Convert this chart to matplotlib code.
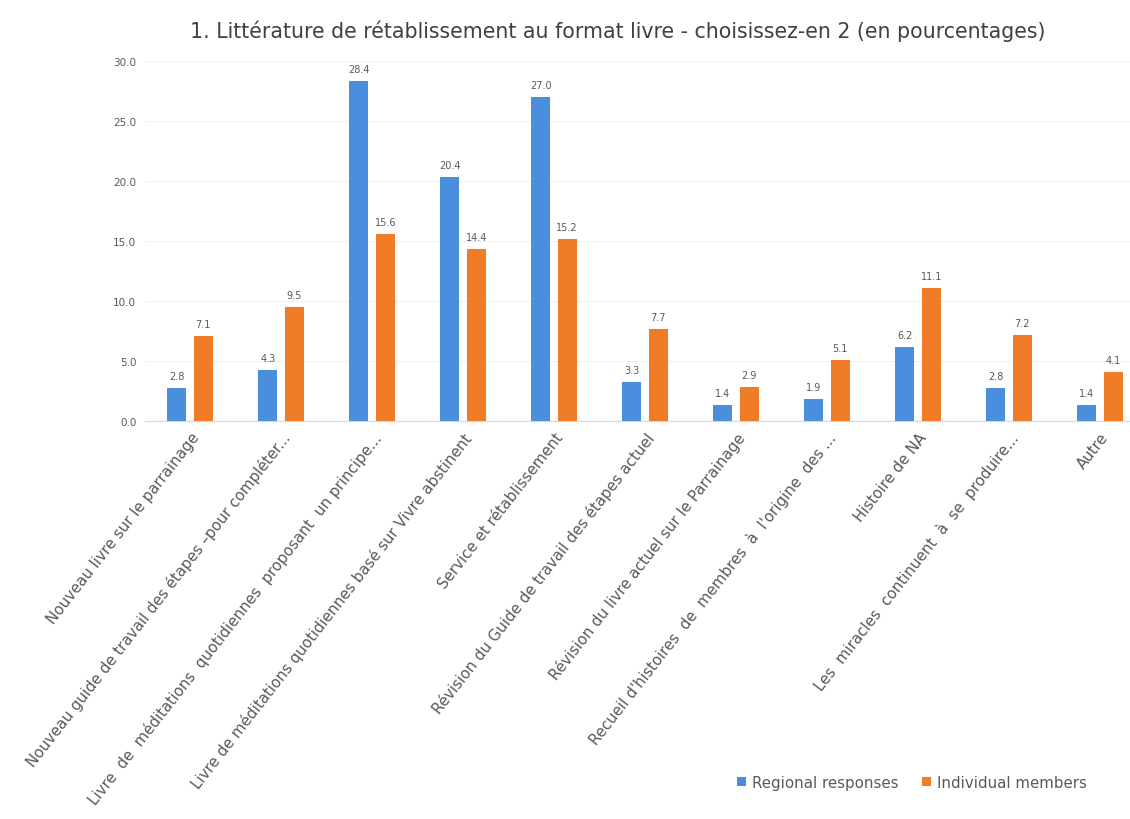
import matplotlib.pyplot as plt
import numpy as np

# Données
categories = [
    "Nouveau livre sur le parrainage",
    "Nouveau guide de travail des étapes –pour compléter...",
    "Livre  de  méditations  quotidiennes  proposant  un principe...",
    "Livre de méditations quotidiennes basé sur Vivre abstinent",
    "Service et rétablissement",
    "Révision du Guide de travail des étapes actuel",
    "Révision du livre actuel sur le Parrainage",
    "Recueil d'histoires  de  membres  à  l'origine  des ...",
    "Histoire de NA",
    "Les  miracles  continuent  à  se  produire...",
    "Autre",
]
regional = [2.8, 4.3, 28.4, 20.4, 27.0, 3.3, 1.4, 1.9, 6.2, 2.8, 1.4]
individual = [7.1, 9.5, 15.6, 14.4, 15.2, 7.7, 2.9, 5.1, 11.1, 7.2, 4.1]
series_names = ["Regional responses", "Individual members"]
yticks = [0, 5, 10, 15, 20, 25, 30]

BLUE = "#4A8FDD"
ORANGE = "#F07C28"
GREY = "#595959"

fig = plt.figure(figsize=(11.3, 8.2), dpi=100)
ax = fig.add_axes([0.128, 0.485, 0.872, 0.439])

x = np.arange(len(categories))
off = 0.145
w = 0.21
b1 = ax.bar(x - off, regional, w, color=BLUE, label=series_names[0], zorder=3)
b2 = ax.bar(x + off, individual, w, color=ORANGE, label=series_names[1], zorder=3)

for bars in (b1, b2):
    for rect in bars:
        h = rect.get_height()
        ax.annotate(f"{h:.1f}", (rect.get_x() + rect.get_width() / 2, h),
                    xytext=(0, 5), textcoords="offset points",
                    ha="center", va="bottom", fontsize=7, color=GREY)

ax.set_ylim(0, 30)
ax.set_yticks(yticks)
ax.set_yticklabels([f"{v:.1f}" for v in yticks], fontsize=7.5, color=GREY)
ax.set_xlim(-0.5, 10.33)
ax.set_xticks(x)
ax.set_xticklabels(categories, rotation=52, ha="right", rotation_mode="anchor",
                   fontsize=10.8, color=GREY)
ax.tick_params(axis="both", length=0)
ax.tick_params(axis="y", pad=6)
ax.tick_params(axis="x", pad=6)
ax.grid(axis="y", color="#F0F0F0", linewidth=0.8, zorder=0)
for s in ("top", "right", "left"):
    ax.spines[s].set_visible(False)
ax.spines["bottom"].set_color("#D9D9D9")

fig.text(0.547, 0.962,
         "1. Littérature de rétablissement au format livre - choisissez-en 2 (en pourcentages)",
         ha="center", va="center", fontsize=14.8, color="#404040")

fig.legend(handles=[b1, b2], labels=series_names, loc="center",
           bbox_to_anchor=(0.807, 0.045), ncol=2, frameon=False,
           fontsize=10.8, labelcolor=GREY, handlelength=0.6, handleheight=0.6,
           columnspacing=1.6, handletextpad=0.4)

fig.savefig("out.png", dpi=100, facecolor="white")
